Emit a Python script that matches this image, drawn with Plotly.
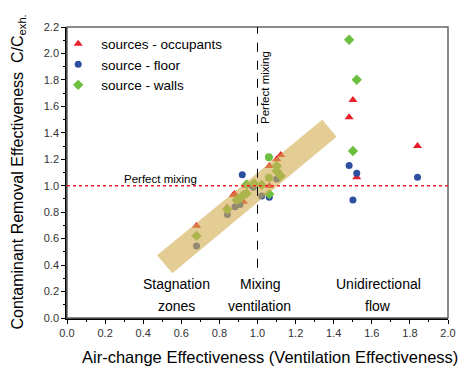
import plotly.graph_objects as go

# ---- data ----
occ_x = [0.68, 0.84, 0.873, 0.88, 0.926, 0.943, 1.062, 1.062, 1.101, 1.122, 1.481, 1.501, 1.521, 1.840]
occ_y = [0.697, 0.836, 0.930, 0.937, 0.879, 0.998, 0.998, 1.149, 1.200, 1.232, 1.518, 1.649, 1.064, 1.301]

floor_x = [0.68, 0.842, 0.882, 0.908, 0.920, 0.978, 1.022, 1.062, 1.101, 1.481, 1.521, 1.501, 1.840]
floor_y = [0.545, 0.783, 0.841, 0.859, 1.083, 0.988, 0.922, 0.912, 1.051, 1.152, 1.094, 0.892, 1.064]

walls_x = [0.68, 0.842, 0.891, 0.908, 0.926, 0.943, 0.943, 0.982, 1.022, 1.062, 1.060, 1.060, 1.101, 1.101, 1.122, 1.481, 1.521, 1.501]
walls_y = [0.621, 0.821, 0.892, 0.904, 0.930, 0.942, 1.010, 1.018, 1.005, 0.937, 1.215, 1.061, 1.149, 1.111, 1.073, 2.104, 1.801, 1.263]
walls_sym = ["diamond"] * 10 + ["circle", "circle"] + ["diamond"] * 6

band_x = [0.473, 0.553, 1.415, 1.340, 0.473]
band_y = [0.475, 0.339, 1.371, 1.498, 0.475]

x_ticks = [0.0, 0.2, 0.4, 0.6, 0.8, 1.0, 1.2, 1.4, 1.6, 1.8, 2.0]
y_ticks = [0.0, 0.2, 0.4, 0.6, 0.8, 1.0, 1.2, 1.4, 1.6, 1.8, 2.0, 2.2]

region_labels = [("Stagnation", "zones", 0.577), ("Mixing", "ventilation", 1.013),
                 ("Unidirectional", "flow", 1.633)]

x_title = "Air-change Effectiveness (Ventilation Effectiveness)"
y_title = "Contaminant Removal Effectiveness  C/C<sub>exh.</sub>"

FONT = "Liberation Sans, Arial, sans-serif"
RED = "#E8202A"
BLUE = "#2E4FA0"
GREEN = "#6CBF3F"

fig = go.Figure()
fig.add_trace(go.Scatter(x=occ_x, y=occ_y, mode="markers", name="sources - occupants",
                         marker=dict(symbol="triangle-up", size=8, color=RED)))
fig.add_trace(go.Scatter(x=floor_x, y=floor_y, mode="markers", name="source - floor",
                         marker=dict(symbol="circle", size=7, color=BLUE)))
fig.add_trace(go.Scatter(x=walls_x, y=walls_y, mode="markers", name="source - walls",
                         marker=dict(symbol=walls_sym, size=8, color=GREEN)))
# translucent band drawn on top of markers
fig.add_trace(go.Scatter(x=band_x, y=band_y, mode="lines", fill="toself",
                         fillcolor="rgba(212,172,84,0.62)", line=dict(width=0),
                         hoverinfo="skip", showlegend=False))

# plot frame (gray top/right)
fig.add_shape(type="rect", xref="paper", yref="paper", x0=0, y0=0, x1=1, y1=1,
              line=dict(color="#666666", width=1.5), layer="above")
# perfect mixing lines
fig.add_shape(type="line", x0=0, x1=2.0, y0=1.0, y1=1.0,
              line=dict(color="#F0202A", width=1.5, dash="3px,3px"), layer="above")
fig.add_shape(type="line", x0=1.0, x1=1.0, y0=0.38, y1=2.2,
              line=dict(color="black", width=1, dash="dash"), layer="above")

fig.add_annotation(x=0.49, y=1.05, text="Perfect mixing", showarrow=False,
                   font=dict(family=FONT, size=11.5, color="black"))
fig.add_annotation(x=1.04, y=1.74, text="Perfect mixing", textangle=-90, showarrow=False,
                   font=dict(family=FONT, size=11.5, color="black"))
for top, bottom, xc in region_labels:
    fig.add_annotation(x=xc, y=0.255, text=top, showarrow=False,
                       font=dict(family=FONT, size=14, color="black"))
    fig.add_annotation(x=xc, y=0.089, text=bottom, showarrow=False,
                       font=dict(family=FONT, size=14, color="black"))

# axis titles
fig.add_annotation(xref="paper", yref="paper", x=0.532, y=0, yshift=-39,
                   xanchor="center", yanchor="middle", text=x_title, showarrow=False,
                   font=dict(family=FONT, size=16.5, color="black"))
fig.add_annotation(xref="paper", yref="paper", x=0, y=0.5, xshift=-49,
                   xanchor="center", yanchor="middle", textangle=-90, text=y_title,
                   showarrow=False, font=dict(family=FONT, size=16, color="black"))

fig.update_layout(
    width=460, height=362,
    margin=dict(l=59, r=20, t=19, b=52, autoexpand=False),
    paper_bgcolor="white", plot_bgcolor="white",
    font=dict(family=FONT, color="black"),
    showlegend=True,
    legend=dict(x=-0.031, y=0.995, xanchor="left", yanchor="top",
                bgcolor="rgba(0,0,0,0)", font=dict(size=13.5, family=FONT),
                itemwidth=36, tracegroupgap=0),
    xaxis=dict(range=[0, 2.0], tickvals=x_ticks, ticktext=[f"{v:.1f}" for v in x_ticks],
               ticks="outside", ticklen=4, tickcolor="black", showgrid=False, zeroline=False,
               showline=True, linecolor="black", linewidth=1.5, automargin=False,
               minor=dict(dtick=0.1, ticks="outside", ticklen=2, tickcolor="black"),
               tickfont=dict(size=11, color="#333333")),
    yaxis=dict(range=[0, 2.2], tickvals=y_ticks, ticktext=[f"{v:.1f}" for v in y_ticks],
               ticks="outside", ticklen=4, tickcolor="black", showgrid=False, zeroline=False,
               showline=True, linecolor="black", linewidth=1.5, automargin=False,
               minor=dict(dtick=0.1, ticks="outside", ticklen=2, tickcolor="black"),
               tickfont=dict(size=11, color="#333333")),
)

fig.write_html("out.html")
